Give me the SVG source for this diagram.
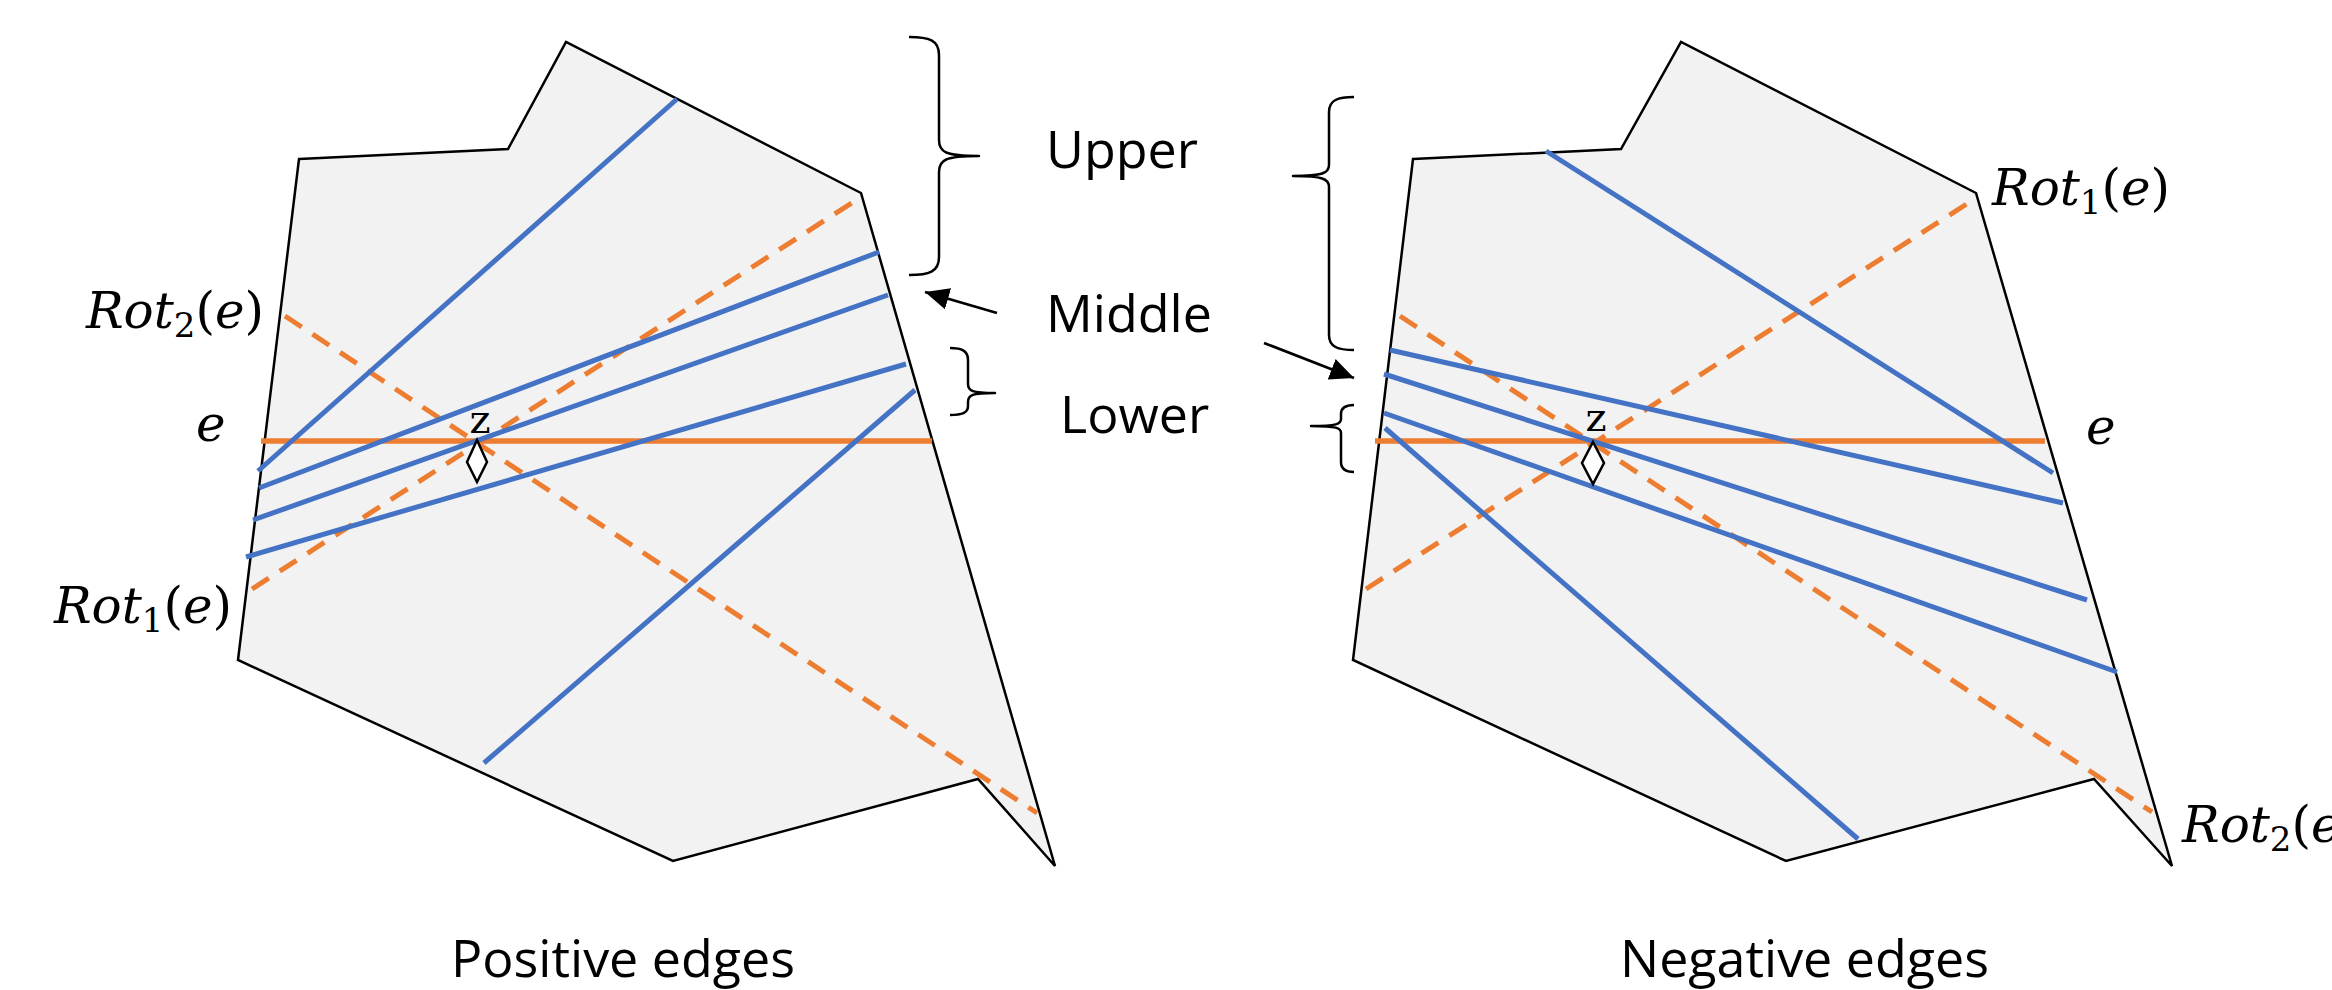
<svg xmlns="http://www.w3.org/2000/svg" width="2332" height="990" viewBox="0 0 2332 990">
  <defs>
    <style>
      .region { fill: #F2F2F2; stroke: #000; stroke-width: 2.5; stroke-linejoin: miter; }
      .edge { stroke: #4472C4; stroke-width: 5; fill: none; stroke-linecap: butt; }
      .base { stroke: #ED7D31; stroke-width: 5.5; fill: none; }
      .rot { stroke: #ED7D31; stroke-width: 5; fill: none; stroke-dasharray: 20 13; }
      .pivot { fill: #fff; stroke: #000; stroke-width: 2.5; }
      .brace { fill: none; stroke: #000; stroke-width: 2.5; stroke-linejoin: round; }
      .pointer { fill: none; stroke: #000; stroke-width: 2.75; }
      .caption { font-family: "Open Sans", "Liberation Sans", sans-serif; font-size: 52px; fill: #000; }
      .math { font-family: "DejaVu Serif", "Liberation Serif", serif; font-size: 50px; fill: #000; }
      .mi { font-style: italic; }
      .sub { font-size: 34px; }
      .zlabel { font-family: "DejaVu Serif", "Liberation Serif", serif; font-size: 40px; fill: #000; text-anchor: middle; }
    </style>
    <marker id="head" markerUnits="userSpaceOnUse" markerWidth="26" markerHeight="22" refX="24" refY="11" orient="auto">
      <path d="M0,0 L24,11 L0,22 Z" fill="#000"/>
    </marker>
  </defs>

  <rect width="2332" height="990" fill="#fff"/>

  <!-- Positive edges panel -->
  <g id="panel-positive">
    <polygon class="region" points="299,159 508,149 566,42 861,193 1055,866 978,779 673,861 238,660"/>
    <line class="rot" x1="252" y1="589" x2="861" y2="197"/>
    <line class="rot" x1="285" y1="316" x2="1037" y2="813"/>
    <line class="base" x1="261" y1="441" x2="932" y2="441"/>
    <line class="edge" x1="258" y1="471" x2="677" y2="99"/>
    <line class="edge" x1="259" y1="488" x2="879" y2="252"/>
    <line class="edge" x1="253" y1="520" x2="888" y2="295"/>
    <line class="edge" x1="246" y1="557" x2="906" y2="364"/>
    <line class="edge" x1="484" y1="763" x2="915" y2="390"/>
    <polygon class="pivot" points="477,440 487,462 477,482 467,462"/>
    <text class="zlabel" x="480" y="433">z</text>
    <text class="math" x="264" y="328" text-anchor="end"><tspan class="mi">Rot</tspan><tspan class="sub" dy="9">2</tspan><tspan dy="-9">(</tspan><tspan class="mi">e</tspan>)</text>
    <text class="math mi" x="196" y="441">e</text>
    <text class="math" x="232" y="623" text-anchor="end"><tspan class="mi">Rot</tspan><tspan class="sub" dy="9">1</tspan><tspan dy="-9">(</tspan><tspan class="mi">e</tspan>)</text>
    <text class="caption" x="451" y="977">Positive edges</text>
  </g>

  <!-- Negative edges panel -->
  <g id="panel-negative">
    <polygon class="region" points="1413,159 1621,149 1681,42 1976,193 2172,866 2094,779 1786,861 1353,660"/>
    <line class="rot" x1="1366" y1="589" x2="1976" y2="198"/>
    <line class="rot" x1="1400" y1="316" x2="2152" y2="812"/>
    <line class="base" x1="1375" y1="441" x2="2045" y2="441"/>
    <line class="edge" x1="1546" y1="151" x2="2053" y2="473"/>
    <line class="edge" x1="1390" y1="350" x2="2063" y2="503"/>
    <line class="edge" x1="1384" y1="374" x2="2087" y2="600"/>
    <line class="edge" x1="1384" y1="413" x2="2117" y2="672"/>
    <line class="edge" x1="1385" y1="428" x2="1858" y2="839"/>
    <polygon class="pivot" points="1593,442 1604,463 1593,484 1582,463"/>
    <text class="zlabel" x="1596" y="431">z</text>
    <text class="math" x="1992" y="205"><tspan class="mi">Rot</tspan><tspan class="sub" dy="9">1</tspan><tspan dy="-9">(</tspan><tspan class="mi">e</tspan>)</text>
    <text class="math mi" x="2086" y="444">e</text>
    <text class="math" x="2182" y="842"><tspan class="mi">Rot</tspan><tspan class="sub" dy="9">2</tspan><tspan dy="-9">(</tspan><tspan class="mi">e</tspan>)</text>
    <text class="caption" x="1620" y="977">Negative edges</text>
  </g>

  <!-- Range labels -->
  <g id="range-labels">
    <text class="caption" x="1046" y="168">Upper</text>
    <text class="caption" x="1046" y="332">Middle</text>
    <text class="caption" x="1060" y="433">Lower</text>
  </g>

  <!-- Braces and pointers -->
  <g id="connectors">
    <path class="brace" d="M909,37 C929,37 939,40 939,55 L939,140 C939,152 945,156 979,156 C945,156 939,160 939,172 L939,257 C939,272 929,275 909,275"/>
    <path class="brace" d="M950,348 C962,348 968,351 968,360 L968,384 C968,391 972,393 995,393 C972,393 968,395 968,402 L968,406 C968,413 962,415 950,415"/>
    <path class="brace" d="M1354,97 C1338,97 1329,100 1329,112 L1329,165 C1329,173 1323,176 1293,176 C1323,176 1329,179 1329,187 L1329,335 C1329,347 1338,350 1354,350"/>
    <path class="brace" d="M1354,405 C1345,405 1341,408 1341,414 L1341,419 C1341,424 1337,426 1311,426 C1337,426 1341,428 1341,433 L1341,462 C1341,469 1345,472 1354,472"/>
    <line class="pointer" x1="997" y1="313" x2="925" y2="292" marker-end="url(#head)"/>
    <line class="pointer" x1="1264" y1="343" x2="1354" y2="378" marker-end="url(#head)"/>
  </g>
</svg>
